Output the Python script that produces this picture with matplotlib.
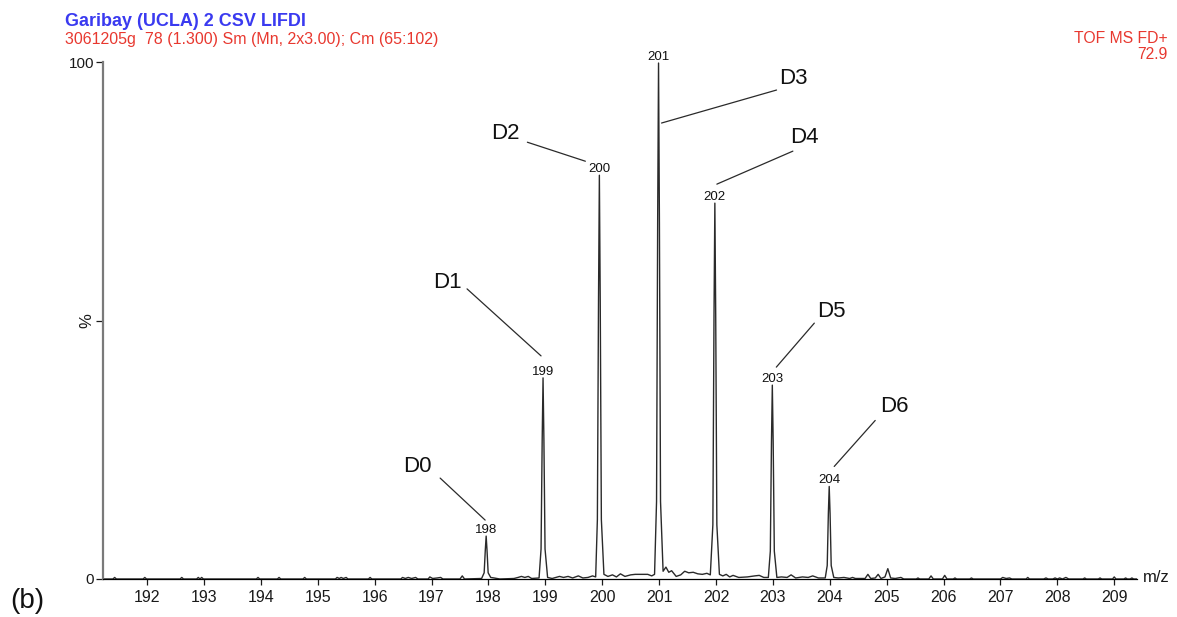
import matplotlib
matplotlib.use("Agg")
import matplotlib.pyplot as plt
from matplotlib.transforms import offset_copy

plt.rcParams['font.family'] = ['Liberation Sans', 'DejaVu Sans']

# profile spectrum (m/z, % of base peak)
profile_mz = [
    191.22, 191.40, 191.43, 191.46, 191.93, 191.96, 191.99, 192.58, 192.61, 192.64,
    192.87, 192.90, 192.93, 192.96, 192.99, 193.92, 193.95, 193.98, 194.29, 194.32,
    194.35, 194.74, 194.77, 194.80, 195.31, 195.34, 195.38, 195.41, 195.45, 195.50,
    195.53, 195.89, 195.92, 195.95, 196.46, 196.49, 196.54, 196.59, 196.65, 196.72,
    196.76, 196.94, 196.97, 197.02, 197.10, 197.16, 197.20, 197.50, 197.54, 197.58,
    197.88, 197.925, 197.945, 197.96, 197.975, 197.995, 198.04, 198.10, 198.20, 198.45,
    198.52, 198.58, 198.64, 198.70, 198.76, 198.89, 198.925, 198.945, 198.96, 198.975,
    198.995, 199.04, 199.12, 199.25, 199.32, 199.40, 199.48, 199.58, 199.66, 199.75,
    199.83, 199.885, 199.915, 199.935, 199.95, 199.965, 199.985, 200.03, 200.10, 200.18,
    200.25, 200.32, 200.40, 200.50, 200.58, 200.70, 200.80, 200.87, 200.92, 200.955,
    200.975, 200.99, 201.005, 201.025, 201.07, 201.12, 201.17, 201.22, 201.30, 201.38,
    201.45, 201.52, 201.60, 201.68, 201.76, 201.84, 201.90, 201.945, 201.965, 201.98,
    201.995, 202.015, 202.06, 202.12, 202.18, 202.24, 202.30, 202.40, 202.55, 202.68,
    202.76, 202.84, 202.92, 202.955, 202.975, 202.99, 203.005, 203.025, 203.07, 203.15,
    203.25, 203.32, 203.40, 203.52, 203.62, 203.70, 203.80, 203.92, 203.955, 203.975,
    203.99, 204.005, 204.025, 204.07, 204.15, 204.25, 204.35, 204.40, 204.45, 204.62,
    204.67, 204.72, 204.80, 204.85, 204.90, 204.97, 205.02, 205.07, 205.15, 205.25,
    205.30, 205.52, 205.55, 205.58, 205.74, 205.78, 205.82, 205.98, 206.02, 206.06,
    206.17, 206.20, 206.23, 206.46, 206.49, 206.52, 207.00, 207.04, 207.10, 207.16,
    207.20, 207.45, 207.48, 207.51, 207.76, 207.80, 207.84, 207.92, 207.96, 208.00,
    208.04, 208.09, 208.15, 208.20, 208.45, 208.48, 208.51, 208.72, 208.75, 208.78,
    208.97, 209.00, 209.03, 209.17, 209.20, 209.23, 209.28, 209.31, 209.34, 209.40,
]
profile_pct = [
    0.0, 0.0, 0.3, 0.0, 0.0, 0.3, 0.0, 0.0, 0.3, 0.0,
    0.0, 0.3, 0.0, 0.3, 0.0, 0.0, 0.3, 0.0, 0.0, 0.3,
    0.0, 0.0, 0.3, 0.0, 0.0, 0.3, 0.1, 0.3, 0.1, 0.3,
    0.0, 0.0, 0.3, 0.0, 0.0, 0.3, 0.1, 0.3, 0.1, 0.3,
    0.0, 0.0, 0.4, 0.1, 0.2, 0.3, 0.0, 0.0, 0.6, 0.0,
    0.1, 1.2, 5.6, 8.3, 5.6, 1.2, 0.3, 0.2, 0.0, 0.1,
    0.3, 0.5, 0.3, 0.5, 0.1, 0.2, 5.8, 27.0, 38.9, 27.0,
    5.8, 0.3, 0.1, 0.5, 0.3, 0.5, 0.2, 0.6, 0.2, 0.3,
    0.6, 0.4, 11.5, 54.0, 78.1, 54.0, 11.5, 0.9, 0.5, 0.8,
    0.4, 1.0, 0.5, 0.8, 0.9, 0.9, 0.9, 0.6, 0.9, 15.0,
    70.0, 99.8, 70.0, 15.0, 1.5, 2.3, 1.3, 1.6, 0.5, 0.8,
    1.5, 1.2, 1.3, 1.0, 0.9, 1.1, 0.8, 10.5, 51.0, 72.7,
    51.0, 10.5, 0.9, 0.6, 0.9, 0.4, 0.7, 0.3, 0.4, 0.6,
    0.7, 0.3, 0.3, 5.4, 26.5, 37.5, 26.5, 5.4, 0.3, 0.4,
    0.3, 0.8, 0.2, 0.4, 0.3, 0.6, 0.2, 0.2, 2.6, 12.7,
    17.9, 12.7, 2.6, 0.3, 0.2, 0.3, 0.1, 0.3, 0.1, 0.1,
    0.9, 0.1, 0.2, 0.9, 0.1, 0.4, 2.0, 0.2, 0.1, 0.3,
    0.0, 0.0, 0.2, 0.0, 0.0, 0.6, 0.0, 0.0, 0.7, 0.0,
    0.0, 0.2, 0.0, 0.0, 0.2, 0.0, 0.0, 0.3, 0.1, 0.2,
    0.0, 0.0, 0.3, 0.0, 0.0, 0.2, 0.0, 0.0, 0.2, 0.0,
    0.2, 0.0, 0.3, 0.0, 0.0, 0.2, 0.0, 0.0, 0.2, 0.0,
    0.0, 0.4, 0.0, 0.0, 0.2, 0.0, 0.0, 0.2, 0.0, 0.0,
]

# labelled peaks
peak_mz = [197.96, 198.96, 199.95, 200.99, 201.98, 202.99, 203.99]
peak_pct = [8.3, 38.9, 78.1, 99.8, 72.7, 37.5, 17.9]
peak_labels = ['198', '199', '200', '201', '202', '203', '204']
iso_names = ['D0', 'D1', 'D2', 'D3', 'D4', 'D5', 'D6']

x_ticks = list(range(192, 210))

# pixel offsets from the peak apex: text centre, leader start, leader end
text_off = [(-69, 70), (-96, 95), (-94, 42), (135, -15), (90, 66), (59, 74), (65, 80)]
line_start = [(-46, 58), (-76, 89), (-72, 33), (118, -27), (78, 52), (42, 62), (46, 66)]
line_end = [(-1, 16), (-2, 22), (-14, 14), (3, -60), (2, 19), (4, 18), (5, 20)]

fig = plt.figure(figsize=(11.77, 6.17), dpi=100)
ax = fig.add_axes([102.7/1177, 1-579/617, (1137-102.7)/1177, (579-62)/617])

ax.plot(profile_mz, profile_pct, color='#2a2a2a', lw=1.0)
ax.set_xlim(191.22, 209.4)
ax.set_ylim(0, 100)

for s in ['top', 'right']:
    ax.spines[s].set_visible(False)
ax.spines['left'].set_color('#7a7a7a')
ax.spines['left'].set_linewidth(1.6)
ax.spines['bottom'].set_linewidth(0.9)

ax.set_xticks(x_ticks)
ax.set_xticklabels([str(t) for t in x_ticks])
ax.set_yticks([0, 50, 100])
ax.set_yticklabels(['0', '%', '100'])
ax.get_yticklabels()[1].set_rotation(90)
ax.get_yticklabels()[1].set_va('center')
ax.get_yticklabels()[1].set_fontsize(12)
ax.tick_params(axis='x', direction='out', length=4, width=0.9, pad=4, labelsize=11.5, colors='#1a1a1a')
ax.tick_params(axis='y', direction='out', length=5, width=0.9, pad=1, labelsize=11, colors='#1a1a1a')
ax.get_yticklabels()[1].set_fontsize(12)

for i in range(len(peak_mz)):
    # peak value label
    ax.annotate(peak_labels[i], xy=(peak_mz[i], peak_pct[i]), xytext=(0, 3),
                textcoords='offset pixels', ha='center', va='baseline',
                fontsize=9.5, color='#111111', annotation_clip=False)
    # isotopologue name and leader line
    ax.annotate(iso_names[i], xy=(peak_mz[i], peak_pct[i]), xytext=text_off[i],
                textcoords='offset pixels', ha='center', va='center',
                fontsize=16, color='#111111', annotation_clip=False)
    ax.annotate('', xy=(peak_mz[i], peak_pct[i]),
                xycoords=offset_copy(ax.transData, fig=fig, x=line_end[i][0], y=line_end[i][1], units='dots'),
                xytext=(peak_mz[i], peak_pct[i]),
                textcoords=offset_copy(ax.transData, fig=fig, x=line_start[i][0], y=line_start[i][1], units='dots'),
                arrowprops=dict(arrowstyle='-', color='#2a2a2a', lw=0.9, shrinkA=0, shrinkB=0),
                annotation_clip=False)

fig.text(65/1177, 1-26/617, 'Garibay (UCLA) 2 CSV LIFDI', color='#3a3af0',
         fontsize=13, fontweight='bold', ha='left', va='baseline')
fig.text(65/1177, 1-44/617, '3061205g  78 (1.300) Sm (Mn, 2x3.00); Cm (65:102)',
         color='#e8382f', fontsize=11.5, ha='left', va='baseline')
fig.text(1168/1177, 1-43/617, 'TOF MS FD+', color='#e8382f', fontsize=11.3,
         ha='right', va='baseline')
fig.text(1168/1177, 1-59/617, '72.9', color='#e8382f', fontsize=11.3,
         ha='right', va='baseline')
fig.text(1143/1177, 1-578/617, 'm/z', color='#1a1a1a', fontsize=12,
         ha='left', va='center')
fig.text(10/1177, 1-601/617, '(b)', color='#111111', fontsize=20,
         ha='left', va='center')

fig.savefig('out.png', dpi=100, facecolor='white')
